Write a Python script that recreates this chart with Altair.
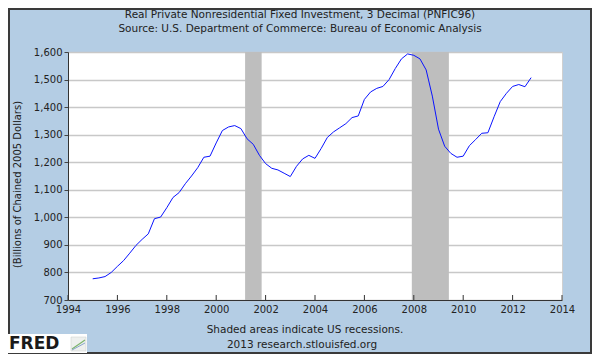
import altair as alt
import pandas as pd

# Quarterly observations, 1995Q1 .. 2012Q4 (billions of chained 2005 dollars)
quarters = [
    1995.00, 1995.25, 1995.50, 1995.75,
    1996.00, 1996.25, 1996.50, 1996.75,
    1997.00, 1997.25, 1997.50, 1997.75,
    1998.00, 1998.25, 1998.50, 1998.75,
    1999.00, 1999.25, 1999.50, 1999.75,
    2000.00, 2000.25, 2000.50, 2000.75,
    2001.00, 2001.25, 2001.50, 2001.75,
    2002.00, 2002.25, 2002.50, 2002.75,
    2003.00, 2003.25, 2003.50, 2003.75,
    2004.00, 2004.25, 2004.50, 2004.75,
    2005.00, 2005.25, 2005.50, 2005.75,
    2006.00, 2006.25, 2006.50, 2006.75,
    2007.00, 2007.25, 2007.50, 2007.75,
    2008.00, 2008.25, 2008.50, 2008.75,
    2009.00, 2009.25, 2009.50, 2009.75,
    2010.00, 2010.25, 2010.50, 2010.75,
    2011.00, 2011.25, 2011.50, 2011.75,
    2012.00, 2012.25, 2012.50, 2012.75,
]
values = [
    777, 780, 785, 800,
    822, 843, 870, 898,
    920, 940, 995, 1001,
    1035, 1072, 1090, 1122,
    1150, 1180, 1218, 1222,
    1270, 1315, 1328, 1333,
    1322, 1285, 1265, 1225,
    1195, 1178, 1172, 1160,
    1148, 1185, 1212, 1225,
    1214, 1250, 1290, 1310,
    1325, 1340, 1362, 1368,
    1428, 1455, 1468, 1475,
    1500, 1540, 1575, 1593,
    1588, 1575, 1535, 1440,
    1320, 1258, 1232, 1218,
    1222, 1260, 1282, 1305,
    1307, 1365, 1420, 1450,
    1475, 1482, 1474, 1507,
]

rec_start = [2001.17, 2007.92]
rec_end = [2001.84, 2009.42]

tick_years = [1994, 1996, 1998, 2000, 2002, 2004, 2006, 2008, 2010, 2012, 2014]
y_ticks = [700, 800, 900, 1000, 1100, 1200, 1300, 1400, 1500, 1600]

title1 = "Real Private Nonresidential Fixed Investment, 3 Decimal (PNFIC96)"
title2 = "Source: U.S. Department of Commerce: Bureau of Economic Analysis"
foot1 = "Shaded areas indicate US recessions."
foot2 = "2013 research.stlouisfed.org"
ytitle = "(Billions of Chained 2005 Dollars)"

W, H = 494, 248
PL, PT, PR, PB = 60, 44, 30, 54
FONT = "DejaVu Sans"

series = pd.DataFrame({"year": quarters, "value": values})
rec = pd.DataFrame({"start": rec_start, "end": rec_end})
ticks = pd.DataFrame({"year": tick_years})
one = pd.DataFrame({"k": [0]})

xscale = alt.Scale(domain=[1994, 2014], nice=False, zero=False)
yscale = alt.Scale(domain=[700, 1600], nice=False, zero=False)

xaxis = alt.Axis(values=tick_years, format="d", ticks=False, grid=False,
                 labelPadding=4, labelFlush=False, labelOverlap=False,
                 domainColor="#333333", labelColor="#222222",
                 labelFont=FONT, labelFontSize=10, title=None)
yaxis = alt.Axis(values=y_ticks, format=",d", tickSize=4, tickColor="#444444",
                 labelPadding=2, labelFlush=False, labelOverlap=False,
                 domainColor="#333333", labelColor="#222222",
                 labelFont=FONT, labelFontSize=10, gridColor="#c8c8c8",
                 gridWidth=1.5, title=ytitle, titleFont=FONT, titleFontSize=10,
                 titleFontWeight="normal", titleColor="#222222",
                 titleX=-51, titleY=132, titleAngle=-90, titleAlign="center",
                 titleBaseline="middle")

frame = alt.Chart(one).mark_rect(fillOpacity=0, stroke="#3a3a3a", strokeWidth=2).encode(
    x=alt.value(-PL + 1), x2=alt.value(W + PR - 1),
    y=alt.value(-PT + 1), y2=alt.value(H + PB - 1))

bands = alt.Chart(rec).mark_rect(color="#bebebe", opacity=1).encode(
    x=alt.X("start:Q", scale=xscale, axis=xaxis),
    x2="end:Q",
    y=alt.value(0), y2=alt.value(H))

line = alt.Chart(series).mark_line(color="#0a14ff", strokeWidth=1).encode(
    x=alt.X("year:Q", scale=xscale, axis=xaxis),
    y=alt.Y("value:Q", scale=yscale, axis=yaxis))

tickmarks = alt.Chart(ticks).mark_rule(color="#333333", strokeWidth=1).encode(
    x=alt.X("year:Q", scale=xscale, axis=xaxis),
    y=alt.value(H - 5), y2=alt.value(H))

def label(txt, x, y, size=10, weight="normal", color="#222222"):
    return alt.Chart(pd.DataFrame({"t": [txt]})).mark_text(
        font=FONT, fontSize=size, fontWeight=weight, color=color,
        align="center", baseline="middle").encode(
        text="t:N", x=alt.value(x), y=alt.value(y))

cx = 300 - 8 - PL
t1 = label(title1, cx, 15 - 8 - PT, size=10.5)
t2 = label(title2, cx, 29 - 8 - PT, size=10.5)
f1 = label(foot1, cx + 5, 330 - 8 - PT, size=10.5)
f2 = label(foot2, cx + 2, 345 - 8 - PT, size=10.5)

ox, oy = -8 - PL, -8 - PT  # page -> plot offsets for decoration
logo_box = alt.Chart(one).mark_rect(fill="white").encode(
    x=alt.value(8 + ox), x2=alt.value(87 + ox),
    y=alt.value(334 + oy), y2=alt.value(353 + oy))
logo_txt = alt.Chart(pd.DataFrame({"t": ["FRED"]})).mark_text(
    font="DejaVu Sans", fontSize=17, fontWeight="bold", color="#1a1a1a",
    align="left", baseline="middle").encode(
    text="t:N", x=alt.value(9 + ox), y=alt.value(344 + oy))
icon_bg = alt.Chart(one).mark_rect(fill="#eef0ee", stroke="#c8ccc8", strokeWidth=0.5).encode(
    x=alt.value(71 + ox), x2=alt.value(86 + ox),
    y=alt.value(337 + oy), y2=alt.value(351 + oy))
icon_g = alt.Chart(one).mark_rule(color="#7cb46c", strokeWidth=1.2).encode(
    x=alt.value(72 + ox), x2=alt.value(85 + ox),
    y=alt.value(349 + oy), y2=alt.value(340 + oy))
icon_b = alt.Chart(one).mark_rule(color="#8aa6cc", strokeWidth=1).encode(
    x=alt.value(72 + ox), x2=alt.value(85 + ox),
    y=alt.value(350 + oy), y2=alt.value(343 + oy))

chart = alt.layer(frame, bands, line, tickmarks, t1, t2, f1, f2,
                  logo_box, logo_txt, icon_bg, icon_g, icon_b).properties(
    width=W, height=H,
    padding={"left": PL, "top": PT, "right": PR, "bottom": PB},
    autosize=alt.AutoSizeParams(type="none"),
).configure(background="#b4cde4").configure_view(
    fill="white", stroke="#d0d0d0", strokeWidth=1, clip=False)

chart.save("out.html", embed_options={"renderer": "svg", "actions": False})
